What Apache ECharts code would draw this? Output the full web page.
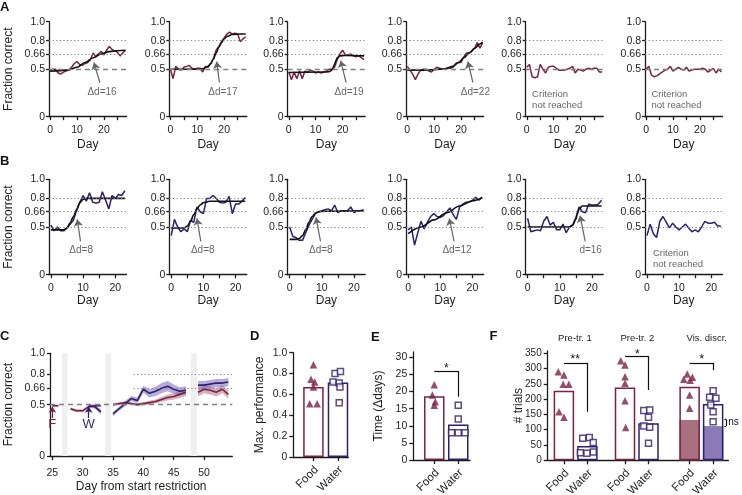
<!DOCTYPE html>
<html><head><meta charset="utf-8">
<script src="https://cdn.jsdelivr.net/npm/echarts@6/dist/echarts.min.js"></script>
<style>html,body{margin:0;padding:0;background:#fff}#c{width:742px;height:495px}</style>
</head><body><div id="c"></div>
<script>
const FONT = '"Liberation Sans", Arial, Helvetica, sans-serif';
const MAROON = '#7b2244';
const NAVY = '#2f1f70';
const REFC = '#808080';
const AXC = '#1c1c1c';
const TXT = '#1e1e1e';
const NOTE = '#666666';

// ---------- Rows A (food) and B (water): individual learning curves ----------
const daysA = [0,1,2,3,4,5,6,7,8,9,10,11,12,13,14,15,16,17,18,19,20,21,22,23,24,25,26,27,28];
const daysB = [0,1,2,3,4,5,6,7,8,9,10,11,12,13,14,15,16,17,18,19,20,21,22,23];

const a1 = [0.49,0.50,0.50,0.46,0.45,0.47,0.48,0.49,0.52,0.56,0.58,0.55,0.54,0.56,0.57,0.60,0.67,0.63,0.66,0.69,0.65,0.70,0.74,0.71,0.69,0.68,0.64,0.67,0.70];
const a2 = [0.50,0.40,0.53,0.50,0.49,0.52,0.53,0.54,0.51,0.50,0.51,0.51,0.47,0.53,0.52,0.56,0.61,0.70,0.74,0.79,0.83,0.87,0.89,0.87,0.88,0.87,0.79,0.82,0.84];
const a3 = [0.47,0.39,0.47,0.40,0.48,0.40,0.48,0.47,0.49,0.48,0.46,0.47,0.46,0.47,0.48,0.50,0.50,0.52,0.60,0.66,0.70,0.65,0.65,0.66,0.64,0.63,0.64,0.62,0.60];
const a4 = [0.53,0.49,0.45,0.39,0.45,0.49,0.50,0.50,0.48,0.47,0.50,0.52,0.51,0.50,0.50,0.51,0.51,0.52,0.56,0.57,0.57,0.63,0.67,0.67,0.69,0.72,0.78,0.72,0.78];
const a5 = [0.52,0.55,0.42,0.41,0.42,0.55,0.50,0.46,0.52,0.53,0.53,0.51,0.49,0.49,0.49,0.50,0.51,0.53,0.46,0.50,0.49,0.48,0.50,0.51,0.50,0.51,0.51,0.47,0.47];
const a6 = [0.50,0.53,0.44,0.42,0.43,0.45,0.47,0.49,0.50,0.53,0.48,0.50,0.52,0.50,0.49,0.52,0.48,0.49,0.50,0.50,0.50,0.51,0.50,0.47,0.49,0.51,0.46,0.50,0.47];

const b1 = [0.52,0.46,0.50,0.46,0.46,0.49,0.53,0.57,0.68,0.76,0.83,0.77,0.86,0.76,0.75,0.76,0.87,0.78,0.69,0.83,0.80,0.84,0.83,0.88];
const b2 = [0.41,0.58,0.50,0.45,0.48,0.45,0.57,0.55,0.71,0.66,0.64,0.80,0.80,0.83,0.80,0.76,0.75,0.76,0.82,0.64,0.74,0.74,0.77,0.81];
const b3 = [0.50,0.40,0.39,0.36,0.36,0.44,0.52,0.58,0.64,0.66,0.67,0.68,0.69,0.67,0.73,0.65,0.67,0.67,0.67,0.71,0.65,0.67,0.67,0.68];
const b4 = [0.47,0.50,0.31,0.44,0.56,0.48,0.55,0.61,0.64,0.61,0.60,0.62,0.66,0.70,0.63,0.58,0.71,0.74,0.76,0.76,0.78,0.81,0.78,0.81];
const b5 = [0.59,0.45,0.46,0.47,0.46,0.56,0.61,0.52,0.55,0.47,0.47,0.53,0.44,0.50,0.52,0.60,0.71,0.66,0.65,0.74,0.73,0.73,0.74,0.78];
const b6 = [0.41,0.53,0.43,0.39,0.56,0.61,0.55,0.49,0.54,0.50,0.47,0.50,0.53,0.49,0.45,0.47,0.45,0.50,0.56,0.54,0.54,0.55,0.51,0.51];

// sigmoid fits: [day, value]
const fitA1 = [[0,0.48],[4,0.485],[7,0.495],[10,0.52],[13,0.57],[16,0.62],[19,0.66],[22,0.685],[25,0.695],[28,0.70]];
const fitA2 = [[0,0.50],[10,0.50],[12,0.505],[14,0.53],[15,0.56],[16,0.61],[17,0.67],[18,0.73],[19,0.78],[20,0.82],[21,0.845],[23,0.865],[26,0.87],[28,0.87]];
const fitA3 = [[0,0.465],[14,0.47],[15,0.475],[16,0.49],[17,0.55],[17.5,0.59],[18,0.62],[19,0.64],[21,0.645],[28,0.64]];
const fitA4 = [[0,0.49],[6,0.49],[10,0.495],[14,0.505],[17,0.53],[19,0.57],[21,0.62],[23,0.67],[25,0.72],[27,0.765],[28,0.785]];
const fitB1 = [[0,0.47],[4,0.47],[5,0.49],[6,0.545],[7,0.61],[8,0.68],[9,0.755],[10,0.79],[11,0.80],[23,0.80]];
const fitB2 = [[0,0.49],[4,0.49],[5,0.51],[6,0.56],[7,0.63],[8,0.69],[9,0.73],[10,0.755],[12,0.77],[23,0.77]];
const fitB3 = [[0,0.37],[2,0.37],[3,0.38],[4,0.41],[5,0.47],[6,0.55],[7,0.61],[8,0.645],[9,0.66],[11,0.665],[23,0.67]];
const fitB4 = [[0,0.43],[4,0.50],[8,0.575],[12,0.65],[16,0.72],[20,0.775],[23,0.81]];
const fitB5 = [[0,0.50],[13,0.50],[14,0.52],[15,0.58],[15.5,0.64],[16,0.69],[17,0.72],[23,0.72]];

const annA = [
  {tip:[16.3,0.57], tail:[18.5,0.36], at:[19.3,0.26], text:'Δd=16'},
  {tip:[17.2,0.58], tail:[18.2,0.36], at:[19.5,0.26], text:'Δd=17'},
  {tip:[19.3,0.59], tail:[21.3,0.36], at:[22.4,0.26], text:'Δd=19'},
  {tip:[22.5,0.58], tail:[24.4,0.36], at:[25.3,0.26], text:'Δd=22'},
  null, null];
const annB = [
  {tip:[8.2,0.58], tail:[9.2,0.35], at:[9.4,0.26], text:'Δd=8'},
  {tip:[8.0,0.59], tail:[9.2,0.35], at:[9.8,0.26], text:'Δd=8'},
  {tip:[8.2,0.60], tail:[9.6,0.35], at:[9.7,0.26], text:'Δd=8'},
  {tip:[12.8,0.59], tail:[14.3,0.35], at:[15.2,0.26], text:'Δd=12'},
  {tip:[16.3,0.62], tail:[17.9,0.35], at:[19.6,0.26], text:'d=16'},
  null];
const noteText = 'Criterion\nnot reached';

// ---------- Panel C ----------
const cBreaks = [[26.6,27.5],[33.7,34.7],[47.8,48.8]];
const cFoodDays = [[25,26],[28,29,30,31,32,33],[35,36,37,38,39,40,41,42,43,44,45,46,47],[49,50,51,52,53,54]];
const cFoodMean = [[0.49,0.49],[0.46,0.44,0.44,0.48,0.49,0.49],[0.50,0.51,0.52,0.51,0.50,0.51,0.52,0.53,0.55,0.57,0.58,0.60,0.62],[0.62,0.65,0.64,0.62,0.65,0.60]];
const cFoodSem = [[0.012,0.012],[0.015,0.015,0.015,0.015,0.012,0.012],[0.012,0.012,0.012,0.012,0.014,0.016,0.018,0.02,0.025,0.03,0.03,0.035,0.035],[0.04,0.04,0.04,0.04,0.04,0.04]];
const cWaterDays = [[31,32,33],[35,36,37,38,39,40,41,42,43,44,45,46,47],[49,50,51,52,53,54]];
const cWaterMean = [[0.49,0.48,0.43],[0.41,0.46,0.51,0.56,0.54,0.65,0.61,0.63,0.66,0.68,0.65,0.63,0.64],[0.69,0.69,0.70,0.71,0.71,0.72]];
const cWaterSem = [[0.015,0.02,0.025],[0.02,0.02,0.025,0.025,0.03,0.035,0.04,0.045,0.05,0.05,0.045,0.04,0.04],[0.04,0.04,0.04,0.04,0.04,0.04]];

// ---------- Panel D ----------
const groupNames = ['Food','Water'];
const dBar = [0.67, 0.715];
const dFood = [0.885,0.745,0.72,0.67,0.51,0.51];
const dFoodJit = [0,-0.1,0.05,0,-0.15,0.15];
const dWater = [0.80,0.82,0.72,0.71,0.67,0.52];
const dWaterJit = [-0.12,0.1,-0.2,0.05,0.08,0.05];

// ---------- Panel E ----------
const eBar = [18.6, 10.4];
const eFood = [22,19,17,16];
const eFoodJit = [0,-0.08,0.04,0];
const eWater = [16,12,8,8,8];
const eWaterJit = [0,0,-0.28,0,0.28];

// ---------- Panel F ----------
const fTitles = ['Pre-tr. 1','Pre-tr. 2','Vis. discr.'];
const fFoodX = [0,2.6,5.35];
const fWaterX = [1,3.6,6.35];
const fFoodBar = [228,238,241];
const fWaterBar = [47,121,184];
const fShade = [132,112];
const fFood = [[290,279,249,249,159,141],[326,312,273,252,195,107],[282,272,265,262,214,170]];
const fFoodJit = [[-0.24,0,-0.03,0.21,-0.21,0],[-0.18,0,0,0,0,0.03],[-0.1,0.12,-0.25,0.02,0,0]];
const fWater = [[75,72,58,27,25,23],[163,165,141,112,108,56],[228,206,203,181,159,126]];
const fWaterJit = [[0.08,-0.2,0.25,0.25,-0.3,-0.02],[-0.2,0.05,0,-0.2,0.05,0],[0,-0.15,0.12,-0.1,0,0]];

// ================= build =================
const grids=[], xAxes=[], yAxes=[], series=[];
const DOT=[1.2,2.4], DASH=[5,4];
function aLine(){return {show:true,onZero:false,lineStyle:{color:AXC,width:1.3}};}
function aTick(vals,len){return {show:true,customValues:vals,length:len,lineStyle:{color:AXC,width:1.3}};}
function aLab(vals,fmt,margin,size,extra){return Object.assign({show:true,customValues:vals,formatter:fmt,margin:margin,color:TXT,fontSize:size,fontFamily:FONT},extra||{});}
function nameStyle(sz){return {fontSize:sz,color:TXT,fontFamily:FONT};}
const fcTicks=[0,0.5,0.66,0.8,1];
const fcFmt=v=>v===1?'1.0':String(v);
function holder(g,extra){return Object.assign({type:'line',xAxisIndex:g,yAxisIndex:g,data:[],symbol:'none',silent:true},extra);}

const colX=[49,169.3,287.7,406.2,525.7,645];
const rowSpec={
  A:{top:21.7,height:95,min:-0.4,max:28.4,ticks:[0,5,10,15,20,25],days:daysA,color:MAROON,half:{type:DASH,color:REFC,width:1.3},gap:22},
  B:{top:179.3,height:95.4,min:-0.6,max:23.5,ticks:[0,5,10,15,20],days:daysB,color:NAVY,half:{type:DOT,color:REFC,width:1.2},gap:20}
};
function addSmall(row,k,vals,fit,ann,note){
  const s=rowSpec[row], g=grids.length;
  grids.push({left:colX[k],top:s.top,width:77.5,height:s.height,outerBoundsMode:'none'});
  xAxes.push({type:'value',gridIndex:g,min:s.min,max:s.max,axisLine:aLine(),axisTick:aTick(s.ticks,3.5),
    axisLabel:aLab([0,10,20],v=>String(v),8,10.5),splitLine:{show:false},
    name:'Day',nameLocation:'middle',nameGap:s.gap,nameMoveOverlap:false,nameTextStyle:nameStyle(12)});
  yAxes.push({type:'value',gridIndex:g,min:0,max:1,axisLine:aLine(),axisTick:aTick(fcTicks,3),
    axisLabel:aLab(fcTicks,fcFmt,4,10.5),splitLine:{show:false},
    name:k===0?'Fraction correct':'',nameLocation:'middle',nameGap:34,nameMoveOverlap:false,nameTextStyle:nameStyle(12)});
  series.push({type:'line',xAxisIndex:g,yAxisIndex:g,data:s.days.map((d,i)=>[d,vals[i]]),symbol:'none',
    lineStyle:{color:s.color,width:1.5},itemStyle:{color:s.color},z:3,silent:true,
    markLine:{silent:true,symbol:['none','none'],label:{show:false},
      data:[{yAxis:0.8,lineStyle:{type:DOT,color:REFC,width:1.2}},{yAxis:0.66,lineStyle:{type:DOT,color:REFC,width:1.2}},{yAxis:0.5,lineStyle:s.half}]}});
  if(fit) series.push({type:'line',xAxisIndex:g,yAxisIndex:g,data:fit,smooth:0.35,smoothMonotone:'x',symbol:'none',
    lineStyle:{color:'#111',width:1.6},z:4,silent:true});
  if(ann) series.push(holder(g,{z:5,
    markLine:{silent:true,symbol:['none','arrow'],symbolSize:7,label:{show:false},lineStyle:{color:'#666',width:1.2,type:'solid'},
      data:[[{coord:ann.tail},{coord:ann.tip}]]},
    markPoint:{silent:true,symbol:'circle',symbolSize:1,itemStyle:{color:'rgba(0,0,0,0)'},
      label:{show:true,position:'inside',formatter:ann.text,color:NOTE,fontSize:10,fontFamily:FONT},data:[{coord:ann.at}]}}));
  if(note) series.push(holder(g,{z:5,
    markPoint:{silent:true,symbol:'circle',symbolSize:1,itemStyle:{color:'rgba(0,0,0,0)'},
      label:{show:true,position:'right',distance:0,formatter:noteText,color:NOTE,fontSize:9.5,lineHeight:11,fontFamily:FONT},
      data:[{coord:note}]}}));
}
addSmall('A',0,a1,fitA1,annA[0]);
addSmall('A',1,a2,fitA2,annA[1]);
addSmall('A',2,a3,fitA3,annA[2]);
addSmall('A',3,a4,fitA4,annA[3]);
addSmall('A',4,a5,null,null,[1.8,0.18]);
addSmall('A',5,a6,null,null,[1.8,0.18]);
addSmall('B',0,b1,fitB1,annB[0]);
addSmall('B',1,b2,fitB2,annB[1]);
addSmall('B',2,b3,fitB3,annB[2]);
addSmall('B',3,b4,fitB4,annB[3]);
addSmall('B',4,b5,fitB5,annB[4]);
addSmall('B',5,b6,null,null,[1.7,0.165]);

// ----- Panel C -----
(function(){
  const g=grids.length;
  grids.push({left:50,top:353.3,width:182.3,height:102.7,outerBoundsMode:'none'});
  const ct=[25,30,35,40,45,50];
  xAxes.push({type:'value',gridIndex:g,min:24.62,max:54.65,axisLine:aLine(),axisTick:aTick(ct,4),
    axisLabel:aLab(ct,v=>String(v),12,10.5),splitLine:{show:false},
    name:'Day from start restriction',nameLocation:'middle',nameGap:25,nameMoveOverlap:false,nameTextStyle:nameStyle(12)});
  yAxes.push({type:'value',gridIndex:g,min:0,max:1,axisLine:aLine(),axisTick:aTick(fcTicks,3),
    axisLabel:aLab(fcTicks,fcFmt,5,10.5),splitLine:{show:false},
    name:'Fraction correct',nameLocation:'middle',nameGap:35,nameMoveOverlap:false,nameTextStyle:nameStyle(12)});
  series.push(holder(g,{z:1,
    markArea:{silent:true,itemStyle:{color:'#efefef'},data:cBreaks.map(b=>[{xAxis:b[0]},{xAxis:b[1]}])},
    markLine:{silent:true,symbol:['none','none'],label:{show:false},data:[
      {yAxis:0.5,lineStyle:{type:DASH,color:REFC,width:1.3}},
      [{coord:[38.4,0.8],lineStyle:{type:DOT,color:REFC,width:1.2}},{coord:[54.6,0.8]}],
      [{coord:[38.4,0.66],lineStyle:{type:DOT,color:REFC,width:1.2}},{coord:[54.6,0.66]}]]}}));
  function joinSegs(days,mean){const out=[];days.forEach((d,k)=>{if(k)out.push([d[0]-0.5,'-']);d.forEach((x,j)=>out.push([x,mean[k][j]]));});return out;}
  function band(days,mean,sem,fill){
    return {type:'custom',xAxisIndex:g,yAxisIndex:g,z:2,silent:true,data:days.map((d,k)=>[d[0],mean[k][0]]),encode:{x:0,y:1},
      renderItem:(p,api)=>{const k=p.dataIndex,d=days[k];
        const up=d.map((x,j)=>api.coord([x,mean[k][j]+sem[k][j]]));
        const lo=d.map((x,j)=>api.coord([x,mean[k][j]-sem[k][j]])).reverse();
        return {type:'polygon',shape:{points:up.concat(lo)},style:{fill:fill}};}};
  }
  series.push(band(cFoodDays,cFoodMean,cFoodSem,'rgba(165,85,115,0.45)'));
  series.push(band(cWaterDays,cWaterMean,cWaterSem,'rgba(110,90,185,0.5)'));
  series.push({type:'line',xAxisIndex:g,yAxisIndex:g,data:joinSegs(cFoodDays,cFoodMean),symbol:'none',connectNulls:false,
    lineStyle:{color:MAROON,width:1.6},z:3,silent:true});
  series.push({type:'line',xAxisIndex:g,yAxisIndex:g,data:joinSegs(cWaterDays,cWaterMean),symbol:'none',connectNulls:false,
    lineStyle:{color:NAVY,width:1.6},z:3,silent:true});
  series.push(holder(g,{z:5,
    markLine:{silent:true,symbol:['none','arrow'],symbolSize:6,label:{show:false},data:[
      [{coord:[25,0.37],lineStyle:{color:MAROON,width:1.3,type:'solid'}},{coord:[25,0.48]}],
      [{coord:[31,0.37],lineStyle:{color:NAVY,width:1.3,type:'solid'}},{coord:[31,0.48]}]]},
    markPoint:{silent:true,symbol:'circle',symbolSize:1,itemStyle:{color:'rgba(0,0,0,0)'},data:[
      {coord:[25,0.305],label:{show:true,position:'inside',formatter:'F',color:MAROON,fontSize:13,fontFamily:FONT}},
      {coord:[31,0.305],label:{show:true,position:'inside',formatter:'W',color:NAVY,fontSize:13,fontFamily:FONT}}]}}));
})();

// ----- bar panels helper -----
const catLabelSpecs=[];
function barAxes(g,grid,xmin,xmax,xt,ymax,yt,yfmt,yname,ygap,ysize){
  grids.push(Object.assign({outerBoundsMode:'none'},grid));
  xAxes.push({type:'value',gridIndex:g,min:xmin,max:xmax,axisLine:aLine(),axisTick:aTick(xt,4),
    axisLabel:{show:false},splitLine:{show:false}});
  yAxes.push({type:'value',gridIndex:g,min:0,max:ymax,axisLine:aLine(),axisTick:aTick(yt,4),
    axisLabel:aLab(yt,yfmt,6,ysize||10.5),splitLine:{show:false},
    name:yname,nameLocation:'middle',nameGap:ygap,nameMoveOverlap:false,nameTextStyle:nameStyle(12)});
  xt.forEach((x,i)=>catLabelSpecs.push({g:g,x:x,text:groupNames[i%2]}));
}
function outlineBars(g,xs,vals,cols,extra){
  return Object.assign({type:'bar',xAxisIndex:g,yAxisIndex:g,barWidth:20.5,barGap:'-100%',z:2,silent:true,
    data:xs.map((x,i)=>({value:[x,vals[i]],itemStyle:{color:'rgba(255,255,255,0)',borderColor:cols[i],borderWidth:1.5}}))},extra||{});
}
function tri(g,xc,vals,jit){return {type:'scatter',xAxisIndex:g,yAxisIndex:g,symbol:'triangle',symbolSize:7.5,z:4,silent:true,
  itemStyle:{color:MAROON},data:vals.map((v,i)=>[xc+jit[i],v])};}
function sq(g,xc,vals,jit){return {type:'scatter',xAxisIndex:g,yAxisIndex:g,symbol:'rect',symbolSize:6,z:4,silent:true,
  itemStyle:{color:'#fff',borderColor:NAVY,borderWidth:1.5},data:vals.map((v,i)=>[xc+jit[i],v])};}
function starPt(coord,text){return {coord:coord,label:{show:true,position:'inside',formatter:text,color:'#111',fontSize:12,fontFamily:FONT}};}
function bracket(g,lines,stars){
  return holder(g,{z:5,
    markLine:{silent:true,symbol:['none','none'],label:{show:false},lineStyle:{color:'#111',width:1.2,type:'solid'},
      data:lines.map(l=>[{coord:l[0]},{coord:l[1]}])},
    markPoint:{silent:true,symbol:'circle',symbolSize:1,itemStyle:{color:'rgba(0,0,0,0)'},data:stars}});
}

// ----- Panel D -----
(function(){
  const g=grids.length;
  barAxes(g,{left:293.3,top:352.7,width:55,height:104.3},-0.82,1.42,[0,1],1,[0,0.2,0.4,0.6,0.8,1],
    v=>v===0?'0':v.toFixed(1),'Max. performance',28);
  series.push(outlineBars(g,[0,1],dBar,[MAROON,NAVY]));
  series.push(tri(g,0,dFood,dFoodJit));
  series.push(sq(g,1,dWater,dWaterJit));
})();

// ----- Panel E -----
(function(){
  const g=grids.length;
  barAxes(g,{left:413.3,top:351.9,width:56.7,height:108.1},-0.875,1.49,[0,1],31.6,[0,5,10,15,20,25,30],
    v=>String(v),'Time (Δdays)',29);
  series.push(outlineBars(g,[0,1],eBar,[MAROON,NAVY]));
  series.push(tri(g,0,eFood,eFoodJit));
  series.push(sq(g,1,eWater,eWaterJit));
  series.push(bracket(g,[[[0,26],[1,26]],[[1,26],[1,18.5]]],[starPt([0.5,26.7],'*')]));
})();

// ----- Panel F -----
(function(){
  const g=grids.length;
  const xt=[fFoodX[0],fWaterX[0],fFoodX[1],fWaterX[1],fFoodX[2],fWaterX[2]];
  barAxes(g,{left:547.7,top:350.9,width:180.7,height:109.4},-0.69,7.0,xt,358,[0,50,100,150,200,250,300,350],
    v=>String(v),'# trials',23,10);
  series.push(outlineBars(g,[fFoodX[2],fWaterX[2]],fShade,[MAROON,NAVY],{
    data:[{value:[fFoodX[2],fShade[0]],itemStyle:{color:'#a9707f'}},{value:[fWaterX[2],fShade[1]],itemStyle:{color:'#8a7bb8'}}]}));
  series.push(outlineBars(g,xt,[fFoodBar[0],fWaterBar[0],fFoodBar[1],fWaterBar[1],fFoodBar[2],fWaterBar[2]],
    [MAROON,NAVY,MAROON,NAVY,MAROON,NAVY],{z:3}));
  for(let i=0;i<3;i++){
    series.push(tri(g,fFoodX[i],fFood[i],fFoodJit[i]));
    series.push(sq(g,fWaterX[i],fWater[i],fWaterJit[i]));
  }
  series.push(bracket(g,[
    [[0,319],[1,319]],[[1,319],[1,159]],
    [[2.6,341],[3.6,341]],[[3.6,341],[3.6,230]],
    [[5.35,319],[6.35,319]],[[6.35,319],[6.35,295]],
    [[6.83,134],[6.9,134]],[[6.9,134],[6.9,112]],[[6.83,112],[6.9,112]]],
    [starPt([0.48,328],'**'),starPt([3.12,347],'*'),starPt([5.87,328],'*'),
     {coord:[6.93,123],label:{show:true,position:'right',distance:1,formatter:'ns',color:'#111',fontSize:10,fontFamily:FONT}}]));
})();

// ----- text graphics -----
const letters=[['A',0,0.5],['B',0,155],['C',0,330],['D',250,329.5],['E',371,330.5],['F',489.5,330]];
const graphic=letters.map(l=>({type:'text',x:l[1],y:l[2],silent:true,
  style:{text:l[0],fontSize:13,fontWeight:'bold',fontFamily:FONT,fill:'#111',align:'left',verticalAlign:'top'}}));
const titleX=[575,637.3,706.7];
fTitles.forEach((t,i)=>graphic.push({type:'text',x:titleX[i],y:338.5,silent:true,
  style:{text:t,fontSize:9.5,fontFamily:FONT,fill:'#222',align:'center',verticalAlign:'middle'}}));

const chart=echarts.init(document.getElementById('c'),null,{renderer:'canvas'});
chart.setOption({animation:false,backgroundColor:'#fff',textStyle:{fontFamily:FONT},
  grid:grids,xAxis:xAxes,yAxis:yAxes,series:series,graphic:graphic});

// rotated Food / Water category labels, positioned through the axes' own scales
const rotLabels=catLabelSpecs.map(s=>{
  const p=chart.convertToPixel({gridIndex:s.g},[s.x,0]);
  return {type:'text',x:p[0]+3,y:p[1]+11,rotation:Math.PI/4,silent:true,
    style:{text:s.text,fontSize:11.5,fontFamily:FONT,fill:TXT,align:'right',verticalAlign:'middle'}};
});
chart.setOption({graphic:graphic.concat(rotLabels)});
</script></body></html>
